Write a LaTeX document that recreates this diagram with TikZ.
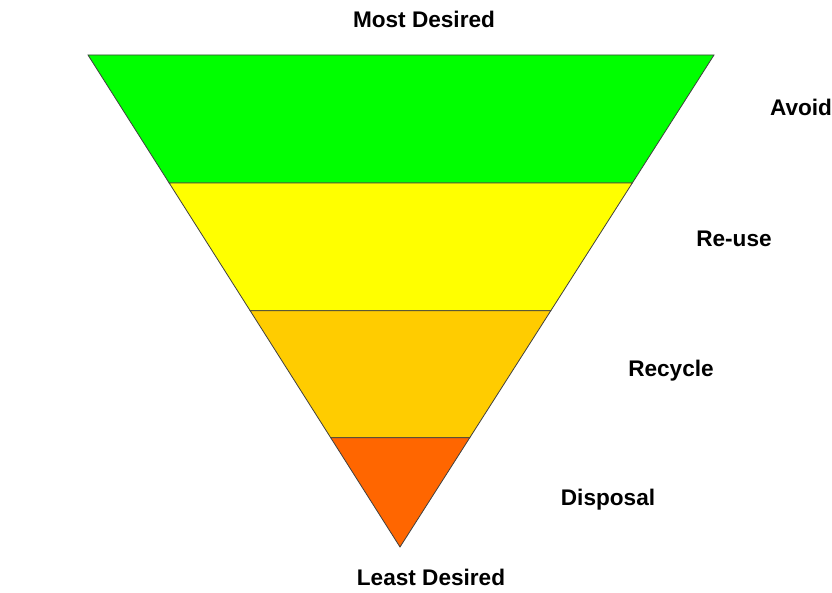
\documentclass[tikz,border=0pt]{standalone}
\usepackage{fontspec}
\setmainfont{Liberation Sans}
\usetikzlibrary{calc}
\definecolor{avoidgreen}{HTML}{00FF00}
\definecolor{reuseyellow}{HTML}{FFFF00}
\definecolor{recycleamber}{HTML}{FFCC00}
\definecolor{disposalorange}{HTML}{FF6600}
\tikzset{
  band/.style={draw=black!75, line width=0.8pt, line join=miter},
  lbl/.style={anchor=base, font=\fontsize{22.6}{26}\selectfont\bfseries}
}
\begin{document}
\begin{tikzpicture}[x=1pt, y=-1pt]
\useasboundingbox (0,0) rectangle (832,593);

% Các đỉnh của tam giác
\coordinate (tl) at (88,55);
\coordinate (tr) at (714,55);
\coordinate (apex) at (400,547);

% Các điểm chia dải
\coordinate (l1) at ($(tl)!0.260!(apex)$);
\coordinate (r1) at ($(tr)!0.260!(apex)$);
\coordinate (l2) at ($(tl)!0.520!(apex)$);
\coordinate (r2) at ($(tr)!0.520!(apex)$);
\coordinate (l3) at ($(tl)!0.778!(apex)$);
\coordinate (r3) at ($(tr)!0.778!(apex)$);

% Vẽ các dải màu
\draw[band, fill=avoidgreen] (tl) -- (tr) -- (r1) -- (l1) -- cycle;
\draw[band, fill=reuseyellow] (l1) -- (r1) -- (r2) -- (l2) -- cycle;
\draw[band, fill=recycleamber] (l2) -- (r2) -- (r3) -- (l3) -- cycle;
\draw[band, fill=disposalorange] (l3) -- (r3) -- (apex) -- cycle;

% Gắn nhãn
\node[lbl] (most) at (424,28) {Most Desired};
\node[lbl] (avoid) at (801,116) {Avoid};
\node[lbl] (reuse) at (734,247) {Re-use};
\node[lbl] (recycle) at (671,376) {Recycle};
\node[lbl] (disposal) at (608,505) {Disposal};
\node[lbl] (least) at (431,585) {Least Desired};
\end{tikzpicture}
\end{document}
